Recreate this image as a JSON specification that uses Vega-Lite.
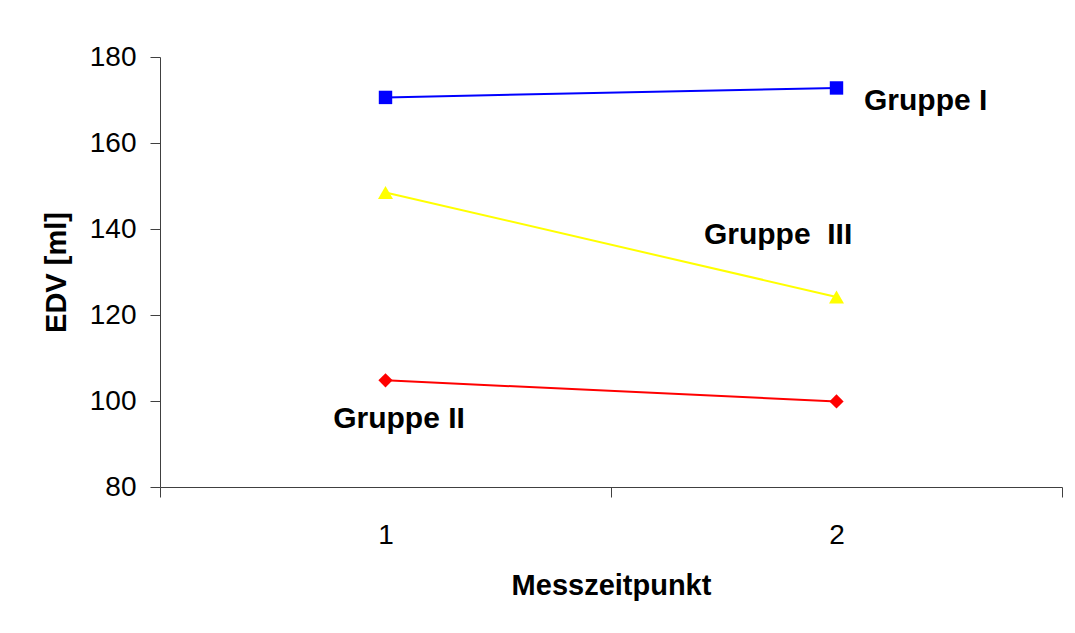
{
  "$schema": "https://vega.github.io/schema/vega-lite/v6.json",
  "width": 902,
  "height": 430,
  "autosize": {"type": "none"},
  "padding": {"left": 160, "top": 57, "right": 13, "bottom": 146},
  "background": "white",
  "config": {"font": "Liberation Sans", "view": {"stroke": null}},
  "datasets": {
    "series": [
      {"gruppe": "Gruppe I", "zeit": 1, "edv": 170.6},
      {"gruppe": "Gruppe I", "zeit": 2, "edv": 172.8},
      {"gruppe": "Gruppe II", "zeit": 1, "edv": 104.8},
      {"gruppe": "Gruppe II", "zeit": 2, "edv": 99.9},
      {"gruppe": "Gruppe III", "zeit": 1, "edv": 148.5},
      {"gruppe": "Gruppe III", "zeit": 2, "edv": 124.2}
    ],
    "labels": [
      {"label": "Gruppe I", "zeit": 2.061, "edv": 167.7},
      {"label": "Gruppe \u00a0III", "zeit": 1.706, "edv": 136.5},
      {"label": "Gruppe II", "zeit": 0.884, "edv": 93.7}
    ]
  },
  "encoding": {
    "x": {
      "field": "zeit",
      "type": "quantitative",
      "scale": {"domain": [0.5, 2.5], "nice": false, "zero": false},
      "axis": {
        "title": "Messzeitpunkt",
        "values": [0.5, 1, 1.5, 2, 2.5],
        "labelExpr": "datum.value == 1 ? '1' : datum.value == 2 ? '2' : ''",
        "tickOpacity": {"condition": {"test": "datum.value == 1 || datum.value == 2", "value": 0}, "value": 1},
        "grid": false,
        "domainColor": "#404040",
        "tickColor": "#404040",
        "tickSize": 10,
        "labelFontSize": 28,
        "labelColor": "black",
        "labelPadding": 24,
        "labelFlush": false,
        "labelOverlap": false,
        "titleFontSize": 29,
        "titleFontWeight": "bold",
        "titleColor": "black",
        "titlePadding": 22
      }
    },
    "y": {
      "field": "edv",
      "type": "quantitative",
      "scale": {"domain": [80, 180], "nice": false, "zero": false},
      "axis": {
        "title": "EDV [ml]",
        "values": [80, 100, 120, 140, 160, 180],
        "grid": false,
        "domainColor": "#404040",
        "tickColor": "#404040",
        "tickSize": 10,
        "labelFontSize": 28,
        "labelColor": "black",
        "labelPadding": 14,
        "titleFontSize": 29,
        "titleFontWeight": "bold",
        "titleColor": "black",
        "titlePadding": 18
      }
    }
  },
  "layer": [
    {
      "data": {"name": "series"},
      "mark": {"type": "line", "strokeWidth": 2},
      "encoding": {
        "color": {
          "field": "gruppe",
          "type": "nominal",
          "scale": {"domain": ["Gruppe I", "Gruppe II", "Gruppe III"], "range": ["#0000FF", "#FF0000", "#FFFF00"]},
          "legend": null
        },
        "detail": {"field": "gruppe"}
      }
    },
    {
      "data": {"name": "series"},
      "mark": {"type": "point", "filled": true, "opacity": 1},
      "encoding": {
        "color": {"field": "gruppe", "type": "nominal", "legend": null},
        "shape": {
          "field": "gruppe",
          "type": "nominal",
          "scale": {"domain": ["Gruppe I", "Gruppe II", "Gruppe III"], "range": ["square", "diamond", "triangle-up"]},
          "legend": null
        },
        "size": {
          "field": "gruppe",
          "type": "nominal",
          "scale": {"domain": ["Gruppe I", "Gruppe II", "Gruppe III"], "range": [180, 225, 290]},
          "legend": null
        }
      }
    },
    {
      "data": {"name": "labels"},
      "mark": {"type": "text", "align": "left", "baseline": "alphabetic", "fontSize": 30, "fontWeight": "bold", "color": "black"},
      "encoding": {"text": {"field": "label"}}
    }
  ]
}
